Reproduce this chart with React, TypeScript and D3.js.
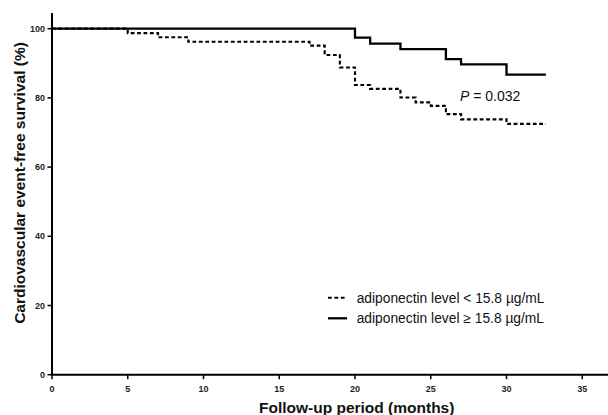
import React from "react";
import * as d3 from "d3";

const xTicks = [0, 5, 10, 15, 20, 25, 30, 35];
const yTicks = [0, 20, 40, 60, 80, 100];

// adiponectin < 15.8 (dashed)
const lowTimes = [0, 5, 7, 9, 17, 18, 19, 20, 21, 23, 24, 25, 26, 27, 30, 32.6];
const lowSurv = [100, 98.7, 97.5, 96.2, 95.1, 92.4, 88.8, 83.7, 82.6, 80.1, 78.7, 77.7, 75.3, 73.8, 72.5, 72.5];

// adiponectin >= 15.8 (solid)
const highTimes = [0, 20, 21, 23, 26, 27, 30, 32.6];
const highSurv = [100, 97.4, 95.7, 94.1, 91.2, 89.7, 86.7, 86.7];

const legendLabels = [
  "adiponectin level < 15.8 \u00b5g/mL",
  "adiponectin level \u2265 15.8 \u00b5g/mL",
];

const W = 608;
const H = 415;
const FONT = "'Liberation Sans', Arial, sans-serif";

export default function App() {
  const x = d3.scaleLinear().domain([0, 36.7]).range([52, 608]);
  const y = d3.scaleLinear().domain([0, 104.5]).range([374.7, 13.1]);

  const line = d3
    .line<[number, number]>()
    .x((d) => x(d[0]))
    .y((d) => y(d[1]))
    .curve(d3.curveStepAfter);

  const lowPts: [number, number][] = lowTimes.map((t, i) => [t, lowSurv[i]]);
  const highPts: [number, number][] = highTimes.map((t, i) => [t, highSurv[i]]);

  const legX = 328;
  const legY = [297.7, 318.3];

  return (
    <svg
      width={W}
      height={H}
      style={{ position: "absolute", left: 0, top: 0, background: "#fff" }}
      fontFamily={FONT}
    >
      <rect x={0} y={0} width={W} height={H} fill="#fff" />
      {/* curves */}
      <path d={line(highPts) || ""} fill="none" stroke="#000" strokeWidth={2.3} />
      <path
        d={line(lowPts) || ""}
        fill="none"
        stroke="#000"
        strokeWidth={2.1}
        strokeDasharray="3.8,2.6"
      />
      {/* axes */}
      <line x1={x(0)} x2={x(0)} y1={y(104.5)} y2={y(0) + 1} stroke="#000" strokeWidth={2} />
      <line x1={x(0) - 1} x2={x(36.7)} y1={y(0)} y2={y(0)} stroke="#000" strokeWidth={2} />
      {yTicks.map((t) => (
        <g key={"y" + t}>
          <line x1={x(0) - 4.5} x2={x(0)} y1={y(t)} y2={y(t)} stroke="#000" strokeWidth={1.5} />
          <text
            x={x(0) - 7}
            y={y(t) + 3.2}
            textAnchor="end"
            fontSize={9}
            fontWeight="bold"
            fill="#222"
          >
            {t}
          </text>
        </g>
      ))}
      {xTicks.map((t) => (
        <g key={"x" + t}>
          <line x1={x(t)} x2={x(t)} y1={y(0)} y2={y(0) + 4.5} stroke="#000" strokeWidth={1.5} />
          <text
            x={x(t)}
            y={y(0) + 17}
            textAnchor="middle"
            fontSize={9}
            fontWeight="bold"
            fill="#222"
          >
            {t}
          </text>
        </g>
      ))}
      {/* axis titles */}
      <text
        x={356.7}
        y={413}
        textAnchor="middle"
        fontSize={15.5}
        fontWeight="bold"
        fill="#111"
      >
        Follow-up period (months)
      </text>
      <text
        transform={`translate(25,183) rotate(-90)`}
        textAnchor="middle"
        fontSize={15.5}
        fontWeight="bold"
        fill="#111"
      >
        Cardiovascular event-free survival (%)
      </text>
      {/* P value */}
      <text x={460} y={101} fontSize={14} fill="#111">
        <tspan fontStyle="italic">P</tspan>
        <tspan> = 0.032</tspan>
      </text>
      {/* legend */}
      <line
        x1={legX}
        x2={legX + 19}
        y1={legY[0]}
        y2={legY[0]}
        stroke="#000"
        strokeWidth={2.1}
        strokeDasharray="3.8,2.6"
      />
      <line x1={legX} x2={legX + 19} y1={legY[1]} y2={legY[1]} stroke="#000" strokeWidth={2.3} />
      {legendLabels.map((l, i) => (
        <text key={l} x={356.7} y={legY[i] + 4.8} fontSize={13.8} fill="#111">
          {l}
        </text>
      ))}
    </svg>
  );
}
